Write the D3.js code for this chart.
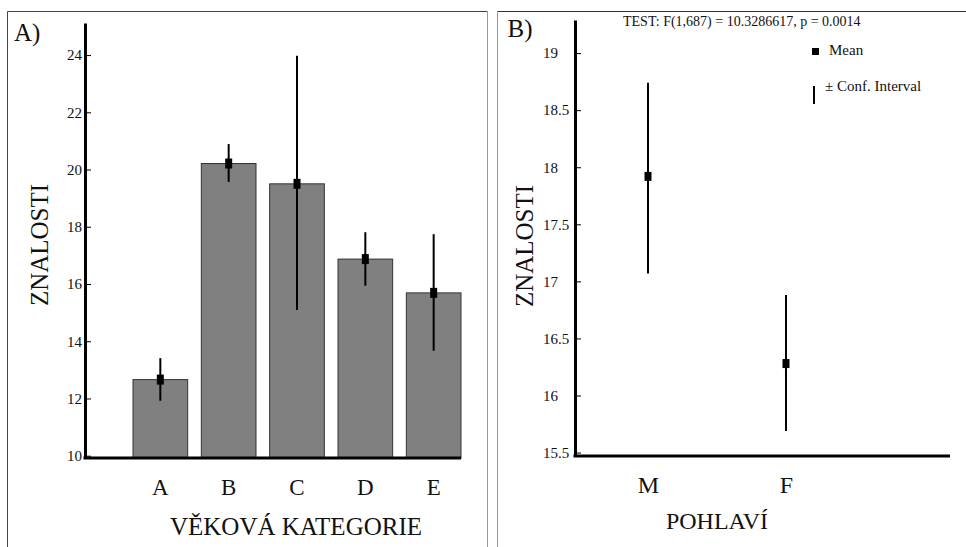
<!DOCTYPE html>
<html>
<head>
<meta charset="utf-8">
<script src="https://cdn.jsdelivr.net/npm/d3@7"></script>
<style>
body { margin: 0; background: #fff; }
svg { display: block; }
svg text { font-family: "Liberation Serif", "Times New Roman", serif !important; fill: #111; }
</style>
</head>
<body>
<svg id="chart" width="966" height="547"></svg>
<script>
// panel A - knowledge score by age category
const ageCats = ["A", "B", "C", "D", "E"];
const ageMeans = [12.66, 20.21, 19.5, 16.87, 15.69];
const ageLow = [11.92, 19.57, 15.09, 15.94, 13.67];
const ageHigh = [13.41, 20.89, 23.98, 17.81, 17.74];
const ageTicks = [10, 12, 14, 16, 18, 20, 22, 24];

// panel B - knowledge score by gender
const sexCats = ["M", "F"];
const sexMeans = [17.92, 16.28];
const sexLow = [17.07, 15.69];
const sexHigh = [18.74, 16.88];
const sexTicks = [15.5, 16, 16.5, 17, 17.5, 18, 18.5, 19];
const testText = "TEST: F(1,687) = 10.3286617, p = 0.0014";

const svg = d3.select("#chart");

// panel frames
svg.append("line").attr("x1", 7.5).attr("x2", 7.5).attr("y1", 11.5).attr("y2", 547).attr("stroke", "#444");
svg.append("line").attr("x1", 7.5).attr("x2", 487.5).attr("y1", 11.5).attr("y2", 11.5).attr("stroke", "#444");
svg.append("line").attr("x1", 487.5).attr("x2", 487.5).attr("y1", 11.5).attr("y2", 547).attr("stroke", "#999");
svg.append("line").attr("x1", 497.5).attr("x2", 497.5).attr("y1", 11.5).attr("y2", 547).attr("stroke", "#999");
svg.append("line").attr("x1", 497.5).attr("x2", 966).attr("y1", 11.5).attr("y2", 11.5).attr("stroke", "#333");

// ---------- panel A ----------
const ageData = ageCats.map((c, i) => ({ cat: c, mean: ageMeans[i], lo: ageLow[i], hi: ageHigh[i] }));

const yA = d3.scaleLinear().domain([9.92, 25.12]).range([458, 23]);
const xA = d3.scaleBand().domain(ageCats).range([133, 461]).paddingInner(0.2).paddingOuter(0);
const bw = xA.bandwidth();

const panelA = svg.append("g");

panelA.selectAll("rect.bar")
    .data(ageData)
    .enter().append("rect")
    .attr("class", "bar")
    .attr("x", d => xA(d.cat))
    .attr("y", d => yA(d.mean))
    .attr("width", bw)
    .attr("height", d => yA.range()[0] - yA(d.mean))
    .attr("fill", "#808080")
    .attr("stroke", "#333")
    .attr("stroke-width", 1);

panelA.selectAll("line.err")
    .data(ageData)
    .enter().append("line")
    .attr("class", "err")
    .attr("x1", d => xA(d.cat) + bw / 2)
    .attr("x2", d => xA(d.cat) + bw / 2)
    .attr("y1", d => yA(d.hi))
    .attr("y2", d => yA(d.lo))
    .attr("stroke", "#000")
    .attr("stroke-width", 2);

panelA.selectAll("rect.mean")
    .data(ageData)
    .enter().append("rect")
    .attr("class", "mean")
    .attr("x", d => xA(d.cat) + bw / 2 - 3.5)
    .attr("y", d => yA(d.mean) - 5)
    .attr("width", 7)
    .attr("height", 10)
    .attr("fill", "#000");

// y axis
const yAxisA = panelA.append("g")
    .attr("transform", "translate(85,0)")
    .call(d3.axisLeft(yA).tickValues(ageTicks).tickSizeInner(-6).tickSizeOuter(0).tickPadding(3))
    .attr("font-size", 15);
yAxisA.select(".domain").attr("stroke-width", 3);

// x axis
panelA.append("line")
    .attr("x1", 83.5).attr("x2", xA.range()[1])
    .attr("y1", 458).attr("y2", 458)
    .attr("stroke", "#000").attr("stroke-width", 3);

const xAxisA = panelA.append("g")
    .attr("transform", "translate(0,458)")
    .call(d3.axisBottom(xA).tickSize(0).tickPadding(21))
    .attr("font-size", 23);
xAxisA.select(".domain").remove();

panelA.append("text")
    .attr("x", 296).attr("y", 535)
    .attr("text-anchor", "middle")
    .attr("font-size", 25)
    .text("VĚKOVÁ KATEGORIE");

panelA.append("text")
    .attr("transform", "translate(48,245) rotate(-90)")
    .attr("text-anchor", "middle")
    .attr("font-size", 25)
    .text("ZNALOSTI");

panelA.append("text")
    .attr("x", 14).attr("y", 40.5)
    .attr("font-size", 25)
    .text("A)");

// ---------- panel B ----------
const sexData = sexCats.map((c, i) => ({ cat: c, mean: sexMeans[i], lo: sexLow[i], hi: sexHigh[i] }));

const yB = d3.scaleLinear().domain([15.47, 19.29]).range([456, 20]);
const xB = d3.scalePoint().domain(sexCats).range([648, 786]);

const panelB = svg.append("g");

panelB.selectAll("line.err")
    .data(sexData)
    .enter().append("line")
    .attr("class", "err")
    .attr("x1", d => xB(d.cat))
    .attr("x2", d => xB(d.cat))
    .attr("y1", d => yB(d.hi))
    .attr("y2", d => yB(d.lo))
    .attr("stroke", "#000")
    .attr("stroke-width", 2);

panelB.selectAll("rect.mean")
    .data(sexData)
    .enter().append("rect")
    .attr("class", "mean")
    .attr("x", d => xB(d.cat) - 3.5)
    .attr("y", d => yB(d.mean) - 4.5)
    .attr("width", 7)
    .attr("height", 9)
    .attr("fill", "#000");

const yAxisB = panelB.append("g")
    .attr("transform", "translate(575,0)")
    .call(d3.axisLeft(yB).tickValues(sexTicks).tickFormat(d => String(d)).tickSizeInner(-6).tickSizeOuter(0))
    .attr("font-size", 15);
yAxisB.select(".domain").attr("stroke-width", 3);
yAxisB.selectAll(".tick text").attr("text-anchor", "start").attr("x", -32);

panelB.append("line")
    .attr("x1", 573.5).attr("x2", 950)
    .attr("y1", 456).attr("y2", 456)
    .attr("stroke", "#000").attr("stroke-width", 3);

const xAxisB = panelB.append("g")
    .attr("transform", "translate(0,456)")
    .call(d3.axisBottom(xB).tickSize(0).tickPadding(20))
    .attr("font-size", 24);
xAxisB.select(".domain").remove();

panelB.append("text")
    .attr("x", 717).attr("y", 529)
    .attr("text-anchor", "middle")
    .attr("font-size", 24)
    .text("POHLAVÍ");

panelB.append("text")
    .attr("transform", "translate(533,246) rotate(-90)")
    .attr("text-anchor", "middle")
    .attr("font-size", 25)
    .text("ZNALOSTI");

panelB.append("text")
    .attr("x", 507.5).attr("y", 37)
    .attr("font-size", 25)
    .text("B)");

panelB.append("text")
    .attr("x", 623).attr("y", 26)
    .attr("font-size", 14)
    .text(testText);

// legend
const legend = panelB.append("g");
legend.append("rect")
    .attr("x", 812).attr("y", 48).attr("width", 7).attr("height", 7)
    .attr("fill", "#000");
legend.append("text")
    .attr("x", 829).attr("y", 55)
    .attr("font-size", 15)
    .text("Mean");
legend.append("line")
    .attr("x1", 814).attr("x2", 814).attr("y1", 86).attr("y2", 104)
    .attr("stroke", "#000").attr("stroke-width", 2);
legend.append("text")
    .attr("x", 825).attr("y", 91)
    .attr("font-size", 15)
    .text("± Conf. Interval");
</script>
</body>
</html>
